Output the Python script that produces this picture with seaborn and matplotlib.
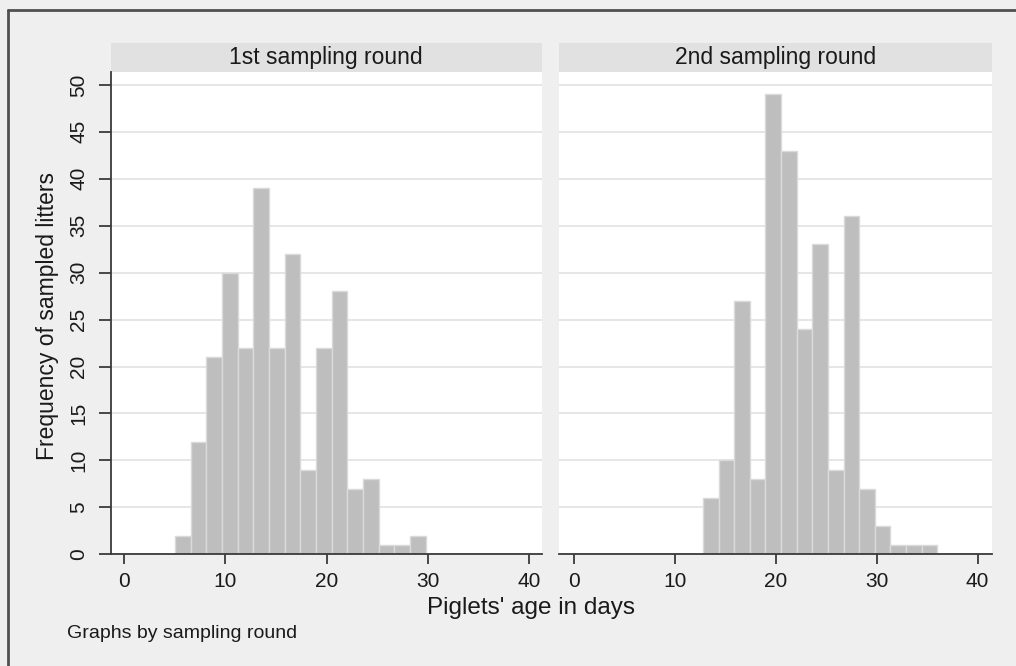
import numpy as np
import pandas as pd
import matplotlib
matplotlib.use('Agg')
import matplotlib.pyplot as plt
import seaborn as sns
from matplotlib.patches import Rectangle
from matplotlib.lines import Line2D

# histogram bins shared by both panels (Stata: start 5, width 1.55, 20 bins)
bin_start = 5
bin_width = 1.55
n_bins = 20

rounds = ['1st sampling round', '2nd sampling round']
first_bin = [0, 5]
counts_round1 = [2, 12, 21, 30, 22, 39, 22, 32, 9, 22, 28, 7, 8, 1, 1, 2]
counts_round2 = [6, 10, 27, 8, 49, 43, 24, 33, 9, 36, 7, 3, 1, 1, 1]
x_ticks = [0, 10, 20, 30, 40]
y_ticks = [0, 5, 10, 15, 20, 25, 30, 35, 40, 45, 50]

edges = bin_start + bin_width * np.arange(n_bins + 1)
centers = edges[:-1] + bin_width / 2

rows = []
for name, start, counts in zip(rounds, first_bin, [counts_round1, counts_round2]):
    for i, c in enumerate(counts):
        rows.append({'round': name, 'age': centers[start + i], 'n': c})
df = pd.DataFrame(rows)

sns.set_style('white')
plt.rcParams['font.family'] = ['Liberation Sans', 'DejaVu Sans']

bg = '#efefef'
fig = plt.figure(figsize=(10.16, 6.66), dpi=100, facecolor=bg)
W, H = 1016, 666

def ax_rect(x0, x1, top, bottom):
    return [x0 / W, 1 - bottom / H, (x1 - x0) / W, (bottom - top) / H]

ax1 = fig.add_axes(ax_rect(111, 541.5, 71.7, 554.3))
ax2 = fig.add_axes(ax_rect(559.3, 991.8, 71.7, 554.3), sharey=ax1)
xlims = [(-1.31, 41.24), (-1.49, 41.4)]

for ax, name, xl in zip([ax1, ax2], rounds, xlims):
    sub = df[df['round'] == name]
    sns.histplot(data=sub, x='age', weights='n', bins=edges.tolist(), ax=ax,
                 color='#bebebe', edgecolor='#dadada', linewidth=1, alpha=1)
    ax.set_facecolor('white')
    ax.set_xlim(*xl)
    ax.set_ylim(0, 51.4)
    ax.set_yticks(y_ticks)
    ax.set_xticks(x_ticks)
    ax.yaxis.grid(True, color='#e6e6e6', linewidth=1.4)
    ax.set_axisbelow(True)
    ax.set_xlabel('')
    ax.set_ylabel('')
    for s in ['top', 'right']:
        ax.spines[s].set_visible(False)
    ax.spines['bottom'].set_color('#3a3a3a')
    ax.spines['bottom'].set_linewidth(1.3)
    ax.tick_params(axis='x', length=7, width=1.3, color='#3a3a3a',
                   labelsize=15, labelcolor='#1a1a1a', pad=6, bottom=True)
    # strip header
    ax.add_patch(Rectangle((0, 1), 1, 28.7 / 482.6, transform=ax.transAxes,
                           facecolor='#e1e1e1', edgecolor='none', clip_on=False))
    ax.text(0.5, 1 + 14.3 / 482.6, name, transform=ax.transAxes, ha='center',
            va='center', fontsize=16.5, color='#1a1a1a')

ax1.spines['left'].set_color('#3a3a3a')
ax1.spines['left'].set_linewidth(1.3)
ax1.tick_params(axis='y', length=8.5, width=1.3, color='#3a3a3a', labelsize=15,
                labelcolor='#1a1a1a', pad=8, left=True)
for lab in ax1.get_yticklabels():
    lab.set_rotation(90)
    lab.set_va('center')
ax2.spines['left'].set_visible(False)
ax2.tick_params(axis='y', left=False, labelleft=False)

fig.text(48 / W, 1 - 316.5 / H, 'Frequency of sampled litters', rotation=90,
         ha='center', va='center', fontsize=16.5, color='#1a1a1a')
fig.text(531 / W, 1 - 608 / H, "Piglets' age in days", ha='center', va='center',
         fontsize=17.5, color='#1a1a1a')
fig.text(67 / W, 1 - 633 / H, 'Graphs by sampling round', ha='left', va='center',
         fontsize=14, color='#1a1a1a')

# outer frame (left and top edges visible)
fig.add_artist(Line2D([8 / W, 8 / W], [0, 1 - 10 / H], transform=fig.transFigure,
                      color='#505050', linewidth=2))
fig.add_artist(Line2D([8 / W, 1], [1 - 10 / H, 1 - 10 / H], transform=fig.transFigure,
                      color='#505050', linewidth=2))

fig.savefig('out.png', dpi=100, facecolor=bg)
